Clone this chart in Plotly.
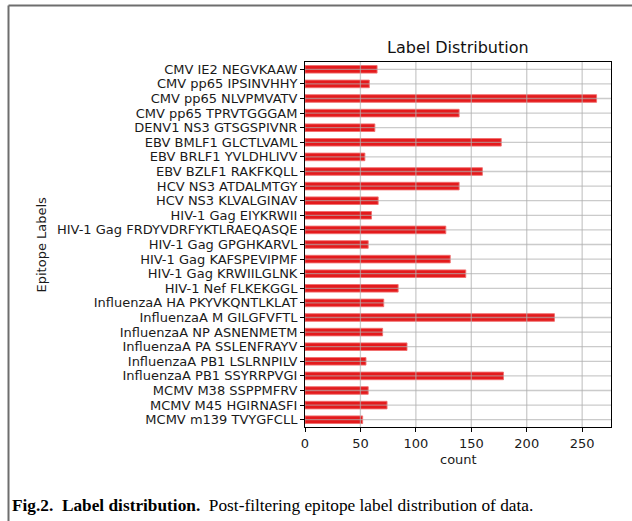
import plotly.graph_objects as go

labels = [
    "CMV IE2 NEGVKAAW", "CMV pp65 IPSINVHHY", "CMV pp65 NLVPMVATV", "CMV pp65 TPRVTGGGAM",
    "DENV1 NS3 GTSGSPIVNR", "EBV BMLF1 GLCTLVAML", "EBV BRLF1 YVLDHLIVV", "EBV BZLF1 RAKFKQLL",
    "HCV NS3 ATDALMTGY", "HCV NS3 KLVALGINAV", "HIV-1 Gag EIYKRWII", "HIV-1 Gag FRDYVDRFYKTLRAEQASQE",
    "HIV-1 Gag GPGHKARVL", "HIV-1 Gag KAFSPEVIPMF", "HIV-1 Gag KRWIILGLNK", "HIV-1 Nef FLKEKGGL",
    "InfluenzaA HA PKYVKQNTLKLAT", "InfluenzaA M GILGFVFTL", "InfluenzaA NP ASNENMETM",
    "InfluenzaA PA SSLENFRAYV", "InfluenzaA PB1 LSLRNPILV", "InfluenzaA PB1 SSYRRPVGI",
    "MCMV M38 SSPPMFRV", "MCMV M45 HGIRNASFI", "MCMV m139 TVYGFCLL",
]
counts = [65, 58, 263, 139, 63, 177, 54, 160, 139, 66, 60, 127, 57, 131, 145, 84,
          71, 225, 70, 92, 55, 179, 57, 74, 52]
x_ticks = [0, 50, 100, 150, 200, 250]
x_max = 276

# layout constants (pixels)
W, H = 632, 521
L, R, T, B = 305, 611, 62, 427
pw, ph = R - L, B - T

def px_x(p):
    return (p - L) / pw

def px_y(p):
    return (B - p) / ph

fig = go.Figure(go.Bar(
    x=counts, y=labels, orientation="h", width=0.52,
    marker=dict(color="#e41a1c", line=dict(color="rgba(240,110,110,0.9)", width=1)),
))

grid_col = "rgba(175,175,175,0.65)"
# grid lines drawn above the bars, as in the reference
for lab in labels:
    fig.add_shape(type="line", xref="x", yref="y", x0=0, x1=x_max, y0=lab, y1=lab,
                  line=dict(color=grid_col, width=1.3), layer="above")
for t in x_ticks[1:]:
    fig.add_shape(type="line", xref="x", yref="paper", x0=t, x1=t, y0=0, y1=1,
                  line=dict(color=grid_col, width=1.3), layer="above")

axis_font = dict(family="DejaVu Sans", size=13, color="#1a1a1a")
fig.update_layout(
    width=W, height=H,
    margin=dict(l=L, r=W - R, t=T, b=H - B),
    paper_bgcolor="white", plot_bgcolor="white",
    showlegend=False,
    xaxis=dict(range=[0, x_max], tickvals=x_ticks, showgrid=False,
               showline=True, linecolor="black", linewidth=1, mirror=True,
               ticks="outside", ticklen=4, tickcolor="black", tickfont=axis_font,
               zeroline=False, automargin=False),
    yaxis=dict(autorange="reversed", showgrid=False, tickmode="array", tickvals=labels,
               showline=True, linecolor="black", linewidth=1, mirror=True,
               ticks="outside", ticklen=4, tickcolor="black", tickfont=axis_font,
               automargin=False),
)

# titles
fig.add_annotation(xref="paper", yref="paper", x=0.5, y=px_y(48), showarrow=False,
                   xanchor="center", yanchor="middle", text="Label Distribution",
                   font=dict(family="DejaVu Sans", size=16, color="#111"))
fig.add_annotation(xref="paper", yref="paper", x=0.5, y=px_y(459), showarrow=False,
                   xanchor="center", yanchor="middle", text="count", font=axis_font)
fig.add_annotation(xref="paper", yref="paper", x=px_x(41), y=0.5, showarrow=False,
                   xanchor="center", yanchor="middle", text="Epitope Labels", textangle=-90,
                   font=axis_font)

# outer frame lines
fig.add_shape(type="line", xref="paper", yref="paper",
              x0=px_x(8.5), x1=px_x(640), y0=px_y(5.5), y1=px_y(5.5),
              line=dict(color="#6e6e6e", width=2))
fig.add_shape(type="line", xref="paper", yref="paper",
              x0=px_x(8.5), x1=px_x(8.5), y0=px_y(5.5), y1=px_y(530),
              line=dict(color="#6e6e6e", width=2))

fig.add_annotation(
    xref="paper", yref="paper", x=px_x(10), y=px_y(506),
    xanchor="left", yanchor="middle", showarrow=False,
    text="<b>Fig.2.  Label distribution.</b>  Post-filtering epitope label distribution of data.",
    font=dict(family="Liberation Serif", size=17.3, color="black"),
)

fig.write_html("out.html", config={"displayModeBar": False},
               post_script="document.body.style.margin='0';document.body.style.overflow='hidden';")
